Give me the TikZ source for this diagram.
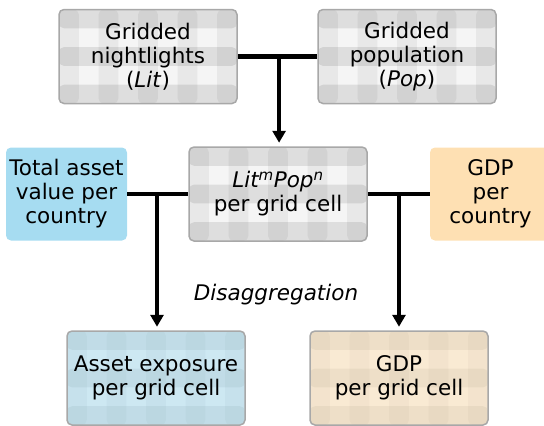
\documentclass[tikz,border=0pt]{standalone}
\usepackage{fontspec}
\setmainfont{DejaVu Sans}
\usetikzlibrary{arrows.meta,calc}
\definecolor{bordergray}{HTML}{A8A8A8}
\definecolor{assetblue}{HTML}{A6DCF1}
\definecolor{gdporange}{HTML}{FEE0B3}
\definecolor{plaidbase}{HTML}{F5F5F5}
\tikzset{
  plaid/.style={path picture={
    \fill[plaidbase] (path picture bounding box.south west) rectangle (path picture bounding box.north east);
    \foreach \i in {0,2,4}{
      \fill[black,fill opacity=0.09] ($(path picture bounding box.north west)!{\i/5}!(path picture bounding box.south west)$) rectangle ($(path picture bounding box.north east)!{(\i+1)/5}!(path picture bounding box.south east)$);
    }
    \foreach \i in {0,2,4,6,8}{
      \fill[black,fill opacity=0.05] ($(path picture bounding box.north west)!{\i/9}!(path picture bounding box.north east)$) rectangle ($(path picture bounding box.south west)!{(\i+1)/9}!(path picture bounding box.south east)$);
    }
    \fill[#1] (path picture bounding box.south west) rectangle (path picture bounding box.north east);
  }},
  txt/.style={font=\fontsize{21.5}{24}\selectfont},
  gridbox/.style={draw=bordergray,line width=1.5pt,rounded corners=5pt,minimum width=178pt,minimum height=94pt,inner sep=0pt,align=center,txt,plaid={#1}},
  flatbox/.style={fill=#1,rounded corners=5pt,minimum height=93pt,inner sep=0pt,align=center,txt},
  conn/.style={line width=4.5pt,black},
  arr/.style={conn,-{Triangle[width=13pt,length=12pt]},shorten >=3.5pt}
}
\begin{document}
\begin{tikzpicture}[x=1pt,y=-1pt]
\useasboundingbox (0,0) rectangle (544,426);
\node[gridbox={fill opacity=0}] (lit) at (148,56.5) {Gridded\\nightlights\\(\textit{Lit})};
\node[gridbox={fill opacity=0}] (pop) at (407,56.5) {Gridded\\population\\(\textit{Pop})};
\node[gridbox={fill opacity=0}] (mid) at (278,194) {\textit{Lit\textsuperscript{m}Pop\textsuperscript{n}}\\per grid cell};
\node[flatbox=assetblue,minimum width=121pt] (asset) at (66.5,194) {Total asset\\value per\\country};
\node[flatbox=gdporange,minimum width=121pt] (gdp) at (490.5,194) {GDP\\per\\country};
\node[gridbox={assetblue,fill opacity=0.5}] (aexp) at (156,378) {Asset exposure\\per grid cell};
\node[gridbox={gdporange,fill opacity=0.5}] (gdpc) at (399,378) {GDP\\per grid cell};
\node[font=\fontsize{21.5}{25}\selectfont\itshape] (dis) at (276,295) {Disaggregation};
\coordinate (j1) at ($(lit.east)!0.52!(pop.west)$);
\coordinate (j2) at (157,194);
\coordinate (j3) at (399,194);
\draw[conn] (lit.east) -- (pop.west);
\draw[arr] (j1) -- (j1 |- mid.north);
\draw[conn] (asset.east) -- (mid.west);
\draw[conn] (mid.east) -- (gdp.west);
\draw[arr] (j2) -- (j2 |- aexp.north);
\draw[arr] (j3) -- (j3 |- gdpc.north);
\end{tikzpicture}
\end{document}
